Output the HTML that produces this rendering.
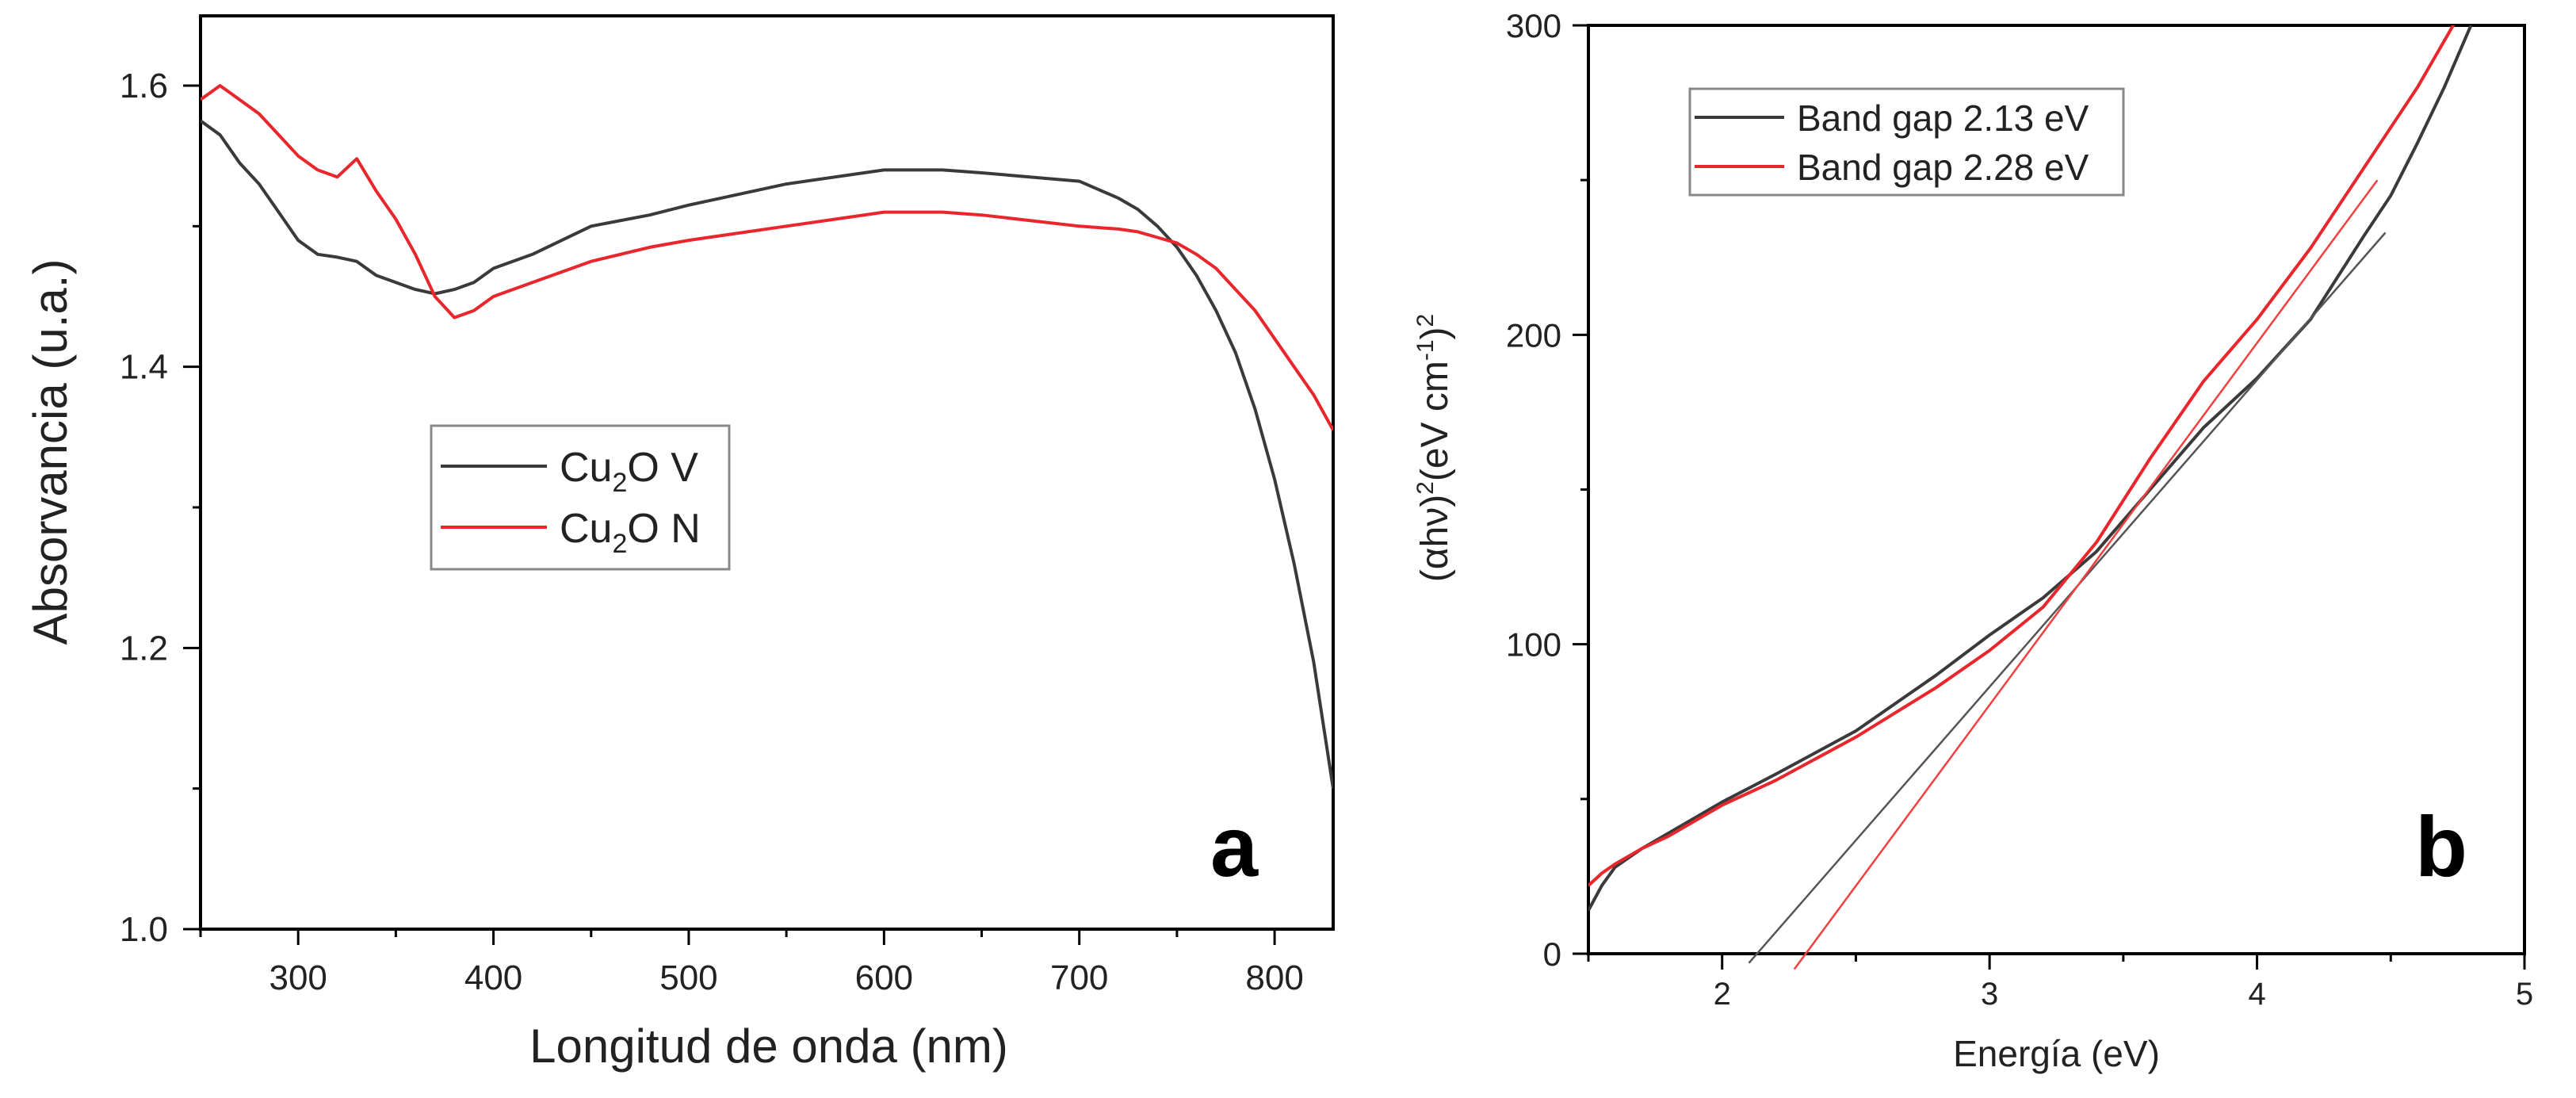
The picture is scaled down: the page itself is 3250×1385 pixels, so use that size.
<!DOCTYPE html>
<html><head><meta charset="utf-8"><style>
html,body{margin:0;padding:0;background:#fff;}
svg{display:block;font-family:"Liberation Sans",Arial,sans-serif;}
</style></head><body>
<svg id="fig" width="3250" height="1385" viewBox="0 0 3250 1385" xmlns="http://www.w3.org/2000/svg"></svg>
<script>
// ---- Panel a data ----
const aWave = [250,255,260,265,270,280,290,300,310,320,330,340,350,360,370,380,390,400,420,450,480,500,550,600,630,650,700,720,730,740,750,760,770,780,790,800,810,820,830];
const aV =    [1.575,1.57,1.565,1.555,1.545,1.53,1.51,1.49,1.48,1.478,1.475,1.465,1.46,1.455,1.452,1.455,1.46,1.47,1.48,1.50,1.508,1.515,1.53,1.54,1.54,1.538,1.532,1.52,1.512,1.50,1.485,1.465,1.44,1.41,1.37,1.32,1.26,1.19,1.10];
const aN =    [1.59,1.595,1.60,1.595,1.59,1.58,1.565,1.55,1.54,1.535,1.548,1.525,1.505,1.48,1.45,1.435,1.44,1.45,1.46,1.475,1.485,1.49,1.50,1.51,1.51,1.508,1.50,1.498,1.496,1.492,1.488,1.48,1.47,1.455,1.44,1.42,1.40,1.38,1.355];
const aXTicks = [300,400,500,600,700,800];
const aYTicks = [1.0,1.2,1.4,1.6];
// ---- Panel b data ----
const bE =  [1.5,1.55,1.6,1.7,1.8,2.0,2.2,2.5,2.8,3.0,3.2,3.4,3.6,3.8,4.0,4.2,4.4,4.5,4.6,4.7,4.8];
const bBlack=[14,22,28,34,39,49,58,72,90,103,115,130,150,170,186,205,232,245,262,280,300];
const bRed = [22,26,29,34,38,48,56,70,86,98,112,133,160,185,205,228,254,267,280,295,310];
const fitBlack=[2.10,4.48]; const fitBlackY=[-3,233];
const fitRed=[2.27,4.45]; const fitRedY=[-5,250];
const bXTicks=[2,3,4,5];
const bYTicks=[0,100,200,300];

const NS="http://www.w3.org/2000/svg";
const svg=document.getElementById('fig');
function mk(tag,attrs,parent){const e=document.createElementNS(NS,tag);for(const k in attrs)e.setAttribute(k,attrs[k]);(parent||svg).appendChild(e);return e;}

const A={l:253,r:1682,t:20,b:1172,x0:250,x1:830,y0:1.0,y1:1.6+88/1773};
const ax=v=>A.l+(v-A.x0)/(A.x1-A.x0)*(A.r-A.l);
const ay=v=>A.b-(v-A.y0)/(A.y1-A.y0)*(A.b-A.t);
const B={l:2004,r:3185,t:32,b:1203,x0:1.5,x1:5,y0:0,y1:300};
const bx=v=>B.l+(v-B.x0)/(B.x1-B.x0)*(B.r-B.l);
const by=v=>B.b-(v-B.y0)/(B.y1-B.y0)*(B.b-B.t);

function clip(id,P){const d=mk('defs',{});const c=mk('clipPath',{id:id},d);mk('rect',{x:P.l,y:P.t,width:P.r-P.l,height:P.b-P.t},c);}
clip('ca',A);clip('cb',B);

function line(xs,ys,fx,fy,color,w,clipId,name){
  let d='';xs.forEach((x,i)=>{d+=(i?'L':'M')+fx(x).toFixed(1)+','+fy(ys[i]).toFixed(1);});
  const attrs={d:d,fill:'none',stroke:color,'stroke-width':w,'stroke-linejoin':'round'};
  if(clipId)attrs['clip-path']='url(#'+clipId+')';
  const p=mk('path',attrs);
  
  
}

// ---- Panel A ----
const fa=mk('rect',{x:A.l,y:A.t,width:A.r-A.l,height:A.b-A.t,fill:'none',stroke:'#000','stroke-width':4});


for(let v=250;v<=830;v+=50){const X=ax(v);const major=v%100===0;mk('line',{x1:X,x2:X,y1:A.b,y2:A.b+(major?20:10),stroke:'#000','stroke-width':3});}
aXTicks.forEach(v=>{const t=mk('text',{x:ax(v),y:A.b+76,'font-size':44,'text-anchor':'middle',fill:'#222'});t.textContent=v;
 
 });
for(let v=1.0;v<=1.65;v+=0.1){const Y=ay(v);const major=Math.round(v*10)%2===0;mk('line',{x1:A.l,x2:A.l-(major?22:10),y1:Y,y2:Y,stroke:'#000','stroke-width':3});}
aYTicks.forEach(v=>{const t=mk('text',{x:212,y:ay(v)+15,'font-size':44,'text-anchor':'end',fill:'#222'});t.textContent=v.toFixed(1);
 
 });
line(aWave,aV,ax,ay,'#3a3a3a',4,'ca','series-cu2o-v');
line(aWave,aN,ax,ay,'#e8262b',4,'ca','series-cu2o-n');
let t=mk('text',{x:970,y:1340,'font-size':60,'text-anchor':'middle',fill:'#222'});t.textContent='Longitud de onda (nm)';

t=mk('text',{x:0,y:0,'font-size':60,'text-anchor':'middle',fill:'#222',transform:'translate(84,570) rotate(-90)'});t.textContent='Absorvancia (u.a.)';

t=mk('text',{x:1557,y:1105,'font-size':108,'font-weight':'bold','text-anchor':'middle',fill:'#000'});t.textContent='a';

// legend A
let g=mk('g',{});
mk('rect',{x:544,y:537,width:376,height:181,fill:'#fff',stroke:'#888','stroke-width':3},g);
mk('line',{x1:556,x2:690,y1:588,y2:588,stroke:'#3a3a3a','stroke-width':4},g);
mk('line',{x1:556,x2:690,y1:665,y2:665,stroke:'#e8262b','stroke-width':4},g);
t=mk('text',{x:706,y:607,'font-size':52,fill:'#222'},g);t.innerHTML='Cu<tspan font-size="34" dy="13">2</tspan><tspan dy="-13">O  V</tspan>';

t=mk('text',{x:706,y:684,'font-size':52,fill:'#222'},g);t.innerHTML='Cu<tspan font-size="34" dy="13">2</tspan><tspan dy="-13">O  N</tspan>';


// ---- Panel B ----
const fb=mk('rect',{x:B.l,y:B.t,width:B.r-B.l,height:B.b-B.t,fill:'none',stroke:'#000','stroke-width':4});


for(let v=1.5;v<=5.001;v+=0.5){const X=bx(v);const major=Math.abs(v-Math.round(v))<0.01;mk('line',{x1:X,x2:X,y1:B.b,y2:B.b+(major?20:10),stroke:'#000','stroke-width':3});}
bXTicks.forEach(v=>{const t=mk('text',{x:bx(v),y:1267,'font-size':40,'text-anchor':'middle',fill:'#222'});t.textContent=v;
 
 });
for(let v=0;v<=300;v+=50){const Y=by(v);const major=v%100===0;mk('line',{x1:B.l,x2:B.l-(major?20:10),y1:Y,y2:Y,stroke:'#000','stroke-width':3});}
bYTicks.forEach(v=>{const t=mk('text',{x:1970,y:by(v)+15,'font-size':42,'text-anchor':'end',fill:'#222'});t.textContent=v;
 
 });
line(bE,bBlack,bx,by,'#3a3a3a',4,'cb','series-black');
line(bE,bRed,bx,by,'#e8262b',4,'cb','series-red');
line(fitBlack,fitBlackY,bx,by,'#555',2.5,null,'fit-line-black');
line(fitRed,fitRedY,bx,by,'#f04040',2.5,null,'fit-line-red');
t=mk('text',{x:(B.l+B.r)/2,y:1345,'font-size':46,'text-anchor':'middle',fill:'#222'});t.textContent='Energía (eV)';

t=mk('text',{x:0,y:0,'font-size':48,'text-anchor':'middle',fill:'#222',transform:'translate(1826,565) rotate(-90)'});
t.innerHTML='(αhν)<tspan font-size="30" dy="-18">2</tspan><tspan dy="18">(eV cm</tspan><tspan font-size="30" dy="-18">-1</tspan><tspan dy="18">)</tspan><tspan font-size="30" dy="-18">2</tspan>';

t=mk('text',{x:3080,y:1105,'font-size':108,'font-weight':'bold','text-anchor':'middle',fill:'#000'});t.textContent='b';

g=mk('g',{});
mk('rect',{x:2132,y:112,width:547,height:134,fill:'#fff',stroke:'#888','stroke-width':3},g);
mk('line',{x1:2138,x2:2251,y1:148,y2:148,stroke:'#3a3a3a','stroke-width':4},g);
mk('line',{x1:2138,x2:2251,y1:210,y2:210,stroke:'#e8262b','stroke-width':4},g);
t=mk('text',{x:2267,y:165,'font-size':46,fill:'#222'},g);t.textContent='Band gap 2.13 eV';

t=mk('text',{x:2267,y:227,'font-size':46,fill:'#222'},g);t.textContent='Band gap 2.28 eV';

</script>
</body></html>
